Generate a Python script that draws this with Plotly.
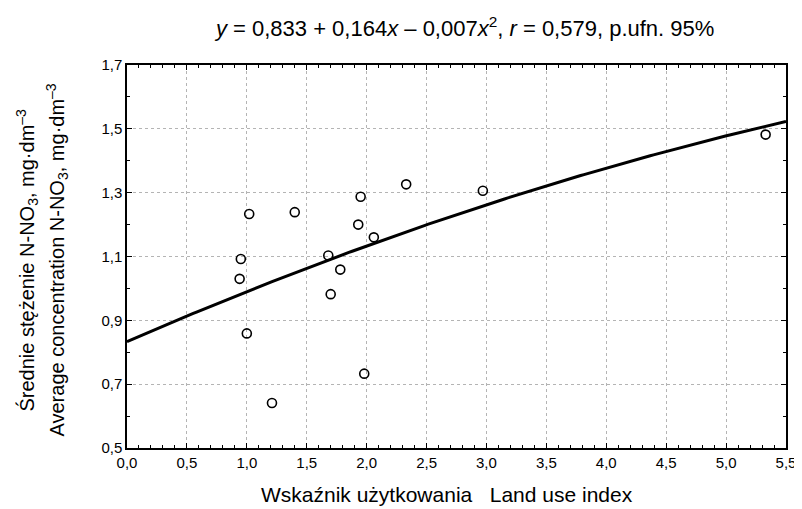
import numpy as np
import plotly.graph_objects as go

# Scatter data
land_use_index = [1.02, 1.40, 1.95, 2.33, 2.97, 1.93, 2.06, 0.95, 0.94, 1.68,
                  1.78, 1.70, 1.00, 1.98, 1.21, 5.33]
no3_conc = [1.233, 1.239, 1.287, 1.326, 1.306, 1.200, 1.160, 1.092, 1.030, 1.103,
            1.059, 0.982, 0.859, 0.733, 0.641, 1.482]

# Fitted curve coefficients from the title
coef = [0.833, 0.164, -0.007]
x_ticks = [0.0, 0.5, 1.0, 1.5, 2.0, 2.5, 3.0, 3.5, 4.0, 4.5, 5.0, 5.5]
y_ticks = [0.5, 0.7, 0.9, 1.1, 1.3, 1.5, 1.7]

xc = np.linspace(0, 5.5, 200)
yc = coef[0] + coef[1] * xc + coef[2] * xc ** 2

FONT = "Liberation Sans, Arial, sans-serif"

fig = go.Figure()
fig.add_trace(go.Scatter(x=xc, y=yc, mode="lines",
                         line=dict(color="black", width=3), hoverinfo="skip"))
fig.add_trace(go.Scatter(x=land_use_index, y=no3_conc, mode="markers",
                         marker=dict(symbol="circle-open", size=9,
                                     color="black", line=dict(width=1.6))))

axis_common = dict(
    showline=True, linecolor="black", linewidth=1.5, mirror="ticks",
    ticks="inside", ticklen=5, tickwidth=1, tickcolor="black",
    showgrid=True, gridcolor="#b4b4b4", griddash="dot", gridwidth=1,
    zeroline=False, tickfont=dict(family=FONT, size=15, color="black"),
    tickformat=".1f",
)

fig.update_xaxes(range=[0, 5.5], tickvals=x_ticks,
                 minor=dict(dtick=0.1, ticks="inside", ticklen=3, tickcolor="black", showgrid=False),
                 **axis_common)
fig.update_yaxes(range=[0.5, 1.7], tickvals=y_ticks,
                 minor=dict(dtick=0.1, ticks="inside", ticklen=3, tickcolor="black", showgrid=False),
                 **axis_common)

fig.add_annotation(text="Średnie stężenie N-NO<sub>3</sub>, mg·dm<sup>–3</sup>",
                   xref="paper", yref="paper", x=0, y=0.5, xshift=-100, yshift=-4,
                   textangle=-90, showarrow=False, xanchor="center", yanchor="middle",
                   font=dict(family=FONT, size=20, color="black"))
fig.add_annotation(text="Average concentration N-NO<sub>3</sub>, mg·dm<sup>–3</sup>",
                   xref="paper", yref="paper", x=0, y=0.5, xshift=-70, yshift=-4,
                   textangle=-90, showarrow=False, xanchor="center", yanchor="middle",
                   font=dict(family=FONT, size=20, color="black"))
fig.add_annotation(text="Wskaźnik użytkowania\u00a0\u00a0 Land use index",
                   xref="paper", yref="paper", x=0.485, y=0, yshift=-46,
                   showarrow=False, xanchor="center", yanchor="middle",
                   font=dict(family=FONT, size=21, color="black"))

fig.update_layout(
    width=802, height=509,
    margin=dict(l=119, r=24, t=57, b=69),
    paper_bgcolor="white", plot_bgcolor="white",
    showlegend=False, separators=", ",
    title=dict(text="<i>y</i> = 0,833 + 0,164<i>x</i> – 0,007<i>x</i><sup>2</sup>, <i>r</i> = 0,579, p.ufn. 95%",
               x=0.57, xanchor="center", y=0.96, yanchor="middle",
               font=dict(family=FONT, size=22, color="black")),
)

fig.write_html("out.html")
